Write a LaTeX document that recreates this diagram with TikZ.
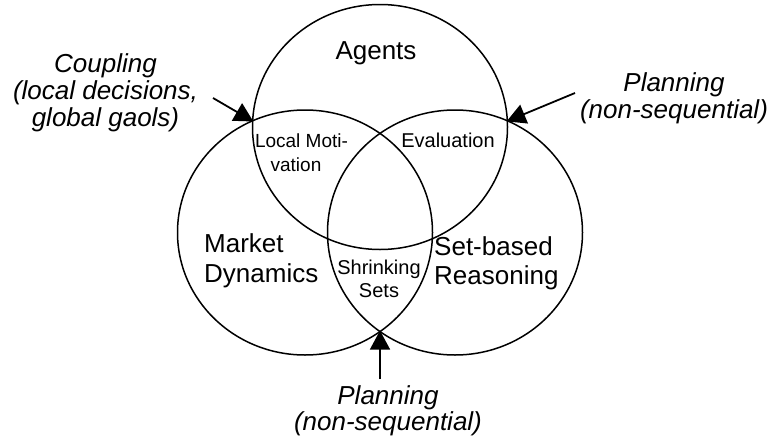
\documentclass[tikz,border=0pt]{standalone}
\usepackage{fontspec}
\setmainfont{Liberation Sans}
\usetikzlibrary{arrows.meta,shapes.geometric}
\begin{document}
\begin{tikzpicture}[x=1pt,y=-1pt,
  setcircle/.style={draw, ellipse, line width=1.5pt, minimum width=255pt, minimum height=245pt, inner sep=0pt},
  biglabel/.style={font=\fontsize{26}{28}\selectfont, inner sep=0pt, anchor=base},
  smalllabel/.style={font=\fontsize{20}{22}\selectfont, inner sep=0pt, anchor=base},
  notelabel/.style={font=\fontsize{26}{28}\selectfont\itshape, inner sep=0pt, anchor=base},
  pointer/.style={line width=1.8pt, -{Triangle[length=19pt,width=20pt]}, shorten >=-1pt}]
\useasboundingbox (0,0) rectangle (774,442);
% circles
\node[setcircle] (agents) at (380,127) {};
\node[setcircle] (market) at (305,232.5) {};
\node[setcircle] (setbased) at (455,232.5) {};
% intersection points
\coordinate (tl) at (252.5,121);
\coordinate (tr) at (507.5,121);
\coordinate (bt) at (380,331.6);
% labels in circles
\node[biglabel] (lagents) at (376,59) {Agents};
\node[biglabel, anchor=base west] (lmarket) at (204,252) {Market};
\node[biglabel, anchor=base west] (ldyn) at (204,282) {Dynamics};
\node[biglabel, anchor=base west] (lset) at (434,255) {Set-based};
\node[biglabel, anchor=base west] (lreas) at (434,284) {Reasoning};
\node[smalllabel, font=\fontsize{19}{21}\selectfont] (lloc) at (301.5,147) {Local Moti-};
\node[smalllabel, font=\fontsize{19}{21}\selectfont] (lvat) at (296,171) {vation};
\node[smalllabel] (leval) at (448,147) {Evaluation};
\node[smalllabel] (lshr) at (379,274) {Shrinking};
\node[smalllabel] (lsets) at (379,297) {Sets};
% annotations
\node[notelabel] (c1) at (105.5,72) {Coupling};
\node[notelabel] (c2) at (105.5,99.5) {(local decisions,};
\node[notelabel] (c3) at (105.5,126) {global gaols)};
\node[notelabel] (p1) at (674,91) {Planning};
\node[notelabel] (p2) at (674,118) {(non-sequential)};
\node[notelabel] (q1) at (388,404) {Planning};
\node[notelabel] (q2) at (388,430) {(non-sequential)};
% arrows
\coordinate (tls) at (213,98);
\coordinate (trs) at (575,93);
\coordinate (bts) at (380,379);
\draw[pointer] (tls) -- (tl);
\draw[pointer] (trs) -- (tr);
\draw[pointer] (bts) -- (bt);
\end{tikzpicture}
\end{document}
